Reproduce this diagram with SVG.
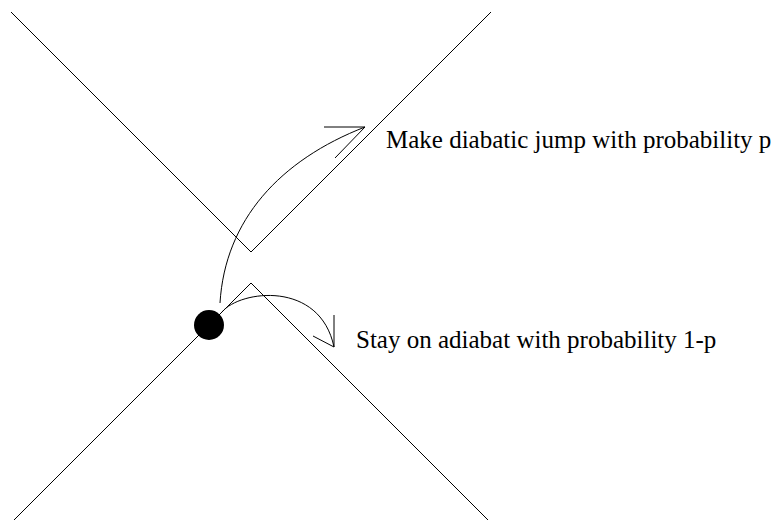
<svg xmlns="http://www.w3.org/2000/svg" width="775" height="520" viewBox="0 0 775 520">
<style>
.ln{fill:none;stroke:#000;stroke-width:1}
.lbl{font-family:"Liberation Serif","Times New Roman",serif;font-size:25px;fill:#000}
</style>
<rect width="775" height="520" fill="#fff"/>
<g id="upper-surface"><polyline class="ln" points="11,12 251,252 491,12"/></g>
<g id="lower-surface"><polyline class="ln" points="14,520 251,283 488,520"/></g>
<g id="particle"><circle cx="209" cy="325" r="15" fill="#000"/></g>
<g id="connectors">
<path class="ln" d="M220,303 C225,220 280,160 365,127"/>
<polyline class="ln" points="324,127 365,127 335,158"/>
<path class="ln" d="M222,312 C240,290 320,280 334,347"/>
<polyline class="ln" points="334,315 334,347 313,336"/>
</g>
<g id="label-jump"><text class="lbl" x="386" y="148">Make diabatic jump with probability p</text></g>
<g id="label-stay"><text class="lbl" x="356" y="348">Stay on adiabat with probability 1-p</text></g>
</svg>
